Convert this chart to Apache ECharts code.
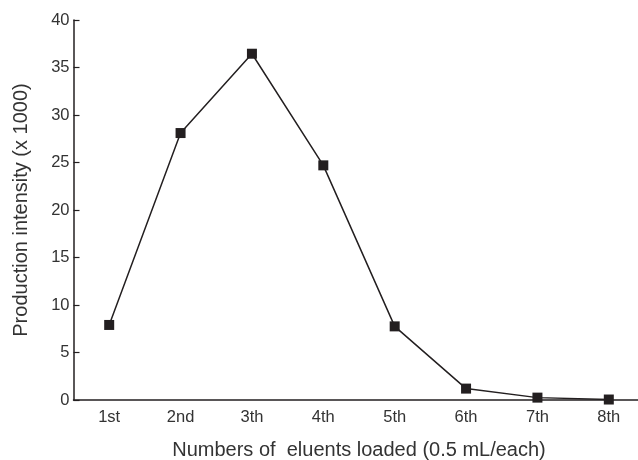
<!DOCTYPE html>
<html>
<head>
<meta charset="utf-8">
<script src="https://cdn.jsdelivr.net/npm/echarts@6/dist/echarts.min.js"></script>
<style>html,body{margin:0;padding:0;background:#fff}#c{width:638px;height:460px}</style>
</head>
<body>
<div id="c"></div>
<script>
var categories = ['1st', '2nd', '3th', '4th', '5th', '6th', '7th', '8th'];
var intensity = [7.9, 28.1, 36.45, 24.7, 7.75, 1.2, 0.25, 0.05];
var yTicks = { min: 0, max: 40, interval: 5 };

var chart = echarts.init(document.getElementById('c'), null, { renderer: 'canvas' });
var ink = '#231f20';
var textCol = '#333333';
var font = 'Liberation Sans, Arial, sans-serif';
chart.setOption({
  animation: false,
  backgroundColor: '#ffffff',
  grid: { left: 73.5, top: 20, width: 571, height: 380, containLabel: false, outerBoundsMode: 'none' },
  xAxis: {
    type: 'category',
    data: categories,
    boundaryGap: true,
    name: 'Numbers of  eluents loaded (0.5 mL/each)',
    nameLocation: 'middle',
    nameGap: 40,
    nameTextStyle: { fontFamily: font, fontSize: 20, color: textCol },
    axisLine: { lineStyle: { color: ink, width: 1.5 } },
    axisTick: { inside: true, length: 6, lineStyle: { color: ink, width: 1.2 } },
    axisLabel: { margin: 9, fontFamily: font, fontSize: 16.5, color: textCol },
    splitLine: { show: false }
  },
  yAxis: {
    type: 'value',
    min: yTicks.min,
    max: yTicks.max,
    interval: yTicks.interval,
    name: 'Production intensity (x 1000)',
    nameLocation: 'middle',
    nameGap: 42,
    nameTextStyle: { fontFamily: font, fontSize: 20, color: textCol },
    axisLine: { show: true, lineStyle: { color: ink, width: 1.5 } },
    axisTick: { show: true, inside: true, length: 6, lineStyle: { color: ink, width: 1.2 } },
    axisLabel: { margin: 4, fontFamily: font, fontSize: 16.5, color: textCol },
    splitLine: { show: false }
  },
  series: [{
    type: 'line',
    data: intensity,
    symbol: 'rect',
    symbolSize: 10,
    lineStyle: { color: ink, width: 1.5 },
    itemStyle: { color: ink },
    z: 5
  }]
});
</script>
</body>
</html>
